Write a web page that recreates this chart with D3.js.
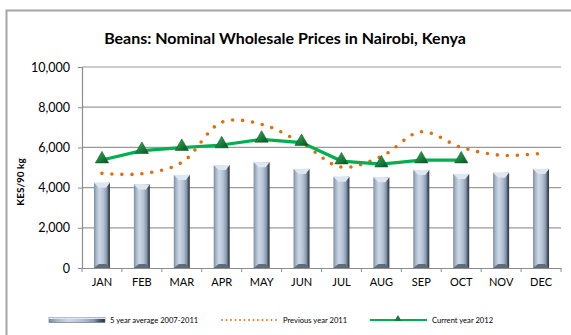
<!DOCTYPE html>
<html>
<head>
<meta charset="utf-8">
<script src="https://cdn.jsdelivr.net/npm/d3@7/dist/d3.min.js"></script>
<style>
  html, body { margin: 0; padding: 0; background: #fff; }
  svg { display: block; font-family: Lato, "Open Sans", sans-serif; }
</style>
</head>
<body>
<svg id="chart" width="571" height="335"></svg>
<script>
// Monthly wholesale bean prices, KES per 90 kg bag
const months = ["JAN","FEB","MAR","APR","MAY","JUN","JUL","AUG","SEP","OCT","NOV","DEC"];
const fiveYearAvg = [4240, 4160, 4630, 5120, 5260, 4930, 4540, 4510, 4880, 4680, 4740, 4930];
const previousYear = [4710, 4690, 5250, 7250, 7150, 6220, 5020, 5550, 6780, 6000, 5610, 5700];
const currentYear = [5370, 5840, 5990, 6120, 6400, 6240, 5320, 5170, 5370, 5370];
const yTicks = [0, 2000, 4000, 6000, 8000, 10000];

const title = "Beans: Nominal Wholesale Prices in Nairobi, Kenya";
const yTitle = "KES/90 kg";
const seriesNames = ["5 year average 2007-2011", "Previous year 2011", "Current year 2012"];

const svg = d3.select("#chart");

// outer chart frame
svg.append("rect")
  .attr("x", 6.5).attr("y", 10.5).attr("width", 600).attr("height", 400)
  .attr("fill", "#fff").attr("stroke", "#a6a6a6").attr("stroke-width", 2);

const plot = { left: 82, right: 561, top: 67, bottom: 268 };

const x = d3.scaleBand().domain(months).range([plot.left, plot.right]).paddingInner(0).paddingOuter(0);
const y = d3.scaleLinear().domain([0, 10000]).range([plot.bottom, plot.top]);

// gradients for the bevelled columns
const defs = svg.append("defs");
const barGrad = defs.append("linearGradient").attr("id", "barGrad").attr("x1", 0).attr("x2", 1).attr("y1", 0).attr("y2", 0);
[[0, "#7b8ba0"], [0.15, "#a9b7ca"], [0.35, "#cdd8e6"], [0.6, "#b3c1d3"], [0.8, "#8797ac"], [0.9, "#4c5866"], [1, "#2e353e"]]
  .forEach(([o, c]) => barGrad.append("stop").attr("offset", o).attr("stop-color", c));
const triGrad = defs.append("linearGradient").attr("id", "triGrad").attr("x1", 0).attr("x2", 1).attr("y1", 0).attr("y2", 1);
[[0, "#3fae5e"], [0.6, "#167a38"], [1, "#0b4f22"]]
  .forEach(([o, c]) => triGrad.append("stop").attr("offset", o).attr("stop-color", c));

// title
svg.append("text")
  .attr("x", 285).attr("y", 44)
  .attr("text-anchor", "middle")
  .attr("font-size", 16).attr("font-weight", "bold").attr("fill", "#000")
  .text(title);

// horizontal gridlines
svg.append("g").selectAll("line").data(yTicks.filter(d => d > 0)).join("line")
  .attr("x1", plot.left).attr("x2", plot.right)
  .attr("y1", d => y(d)).attr("y2", d => y(d))
  .attr("stroke", "#9a9a9a").attr("stroke-width", 1.2);

// y axis
const yAxis = svg.append("g")
  .attr("transform", `translate(${plot.left},0)`)
  .call(d3.axisLeft(y).tickValues(yTicks).tickFormat(d3.format(",")).tickSize(4).tickPadding(8));
yAxis.select(".domain").attr("stroke", "#8c8c8c").attr("stroke-width", 1.2);
yAxis.selectAll(".tick line").attr("stroke", "#8c8c8c");
yAxis.selectAll(".tick text").attr("font-size", 12.5).attr("fill", "#000")
  .attr("font-family", "Lato, 'Open Sans', sans-serif");

// y axis title
svg.append("text")
  .attr("transform", "translate(24,182) rotate(-90)")
  .attr("text-anchor", "middle")
  .attr("font-size", 10).attr("font-weight", "bold").attr("fill", "#000")
  .text(yTitle);

// columns: 5 year average
const barW = 16;
const bev = 5;
const bars = svg.append("g").selectAll("g").data(months.map((m, i) => ({ m, v: fiveYearAvg[i] }))).join("g");
bars.append("rect")
  .attr("x", d => x(d.m) + x.bandwidth() / 2 - barW / 2)
  .attr("y", d => y(d.v))
  .attr("width", barW)
  .attr("height", d => y(0) - y(d.v))
  .attr("fill", "url(#barGrad)");
// bevelled top facet
bars.append("path")
  .attr("d", d => {
    const x0 = x(d.m) + x.bandwidth() / 2 - barW / 2, x1 = x0 + barW, t = y(d.v);
    return `M${x0},${t}L${x1},${t}L${x1 - bev + 1},${t + bev}L${x0 + bev},${t + bev}Z`;
  })
  .attr("fill", "#dde6f1");
// bevelled bottom facet
bars.append("path")
  .attr("d", d => {
    const x0 = x(d.m) + x.bandwidth() / 2 - barW / 2, x1 = x0 + barW, b = y(0);
    return `M${x0},${b}L${x1},${b}L${x1 - bev + 1},${b - 4}L${x0 + bev},${b - 4}Z`;
  })
  .attr("fill", "#5f6c7c");

// x axis
const xAxis = svg.append("g")
  .attr("transform", `translate(0,${plot.bottom})`)
  .call(d3.axisBottom(x).tickSize(0).tickPadding(10));
xAxis.select(".domain").attr("stroke", "#8c8c8c").attr("stroke-width", 1.2);
xAxis.selectAll(".tick text").attr("font-size", 11).attr("fill", "#000")
  .attr("font-family", "Lato, 'Open Sans', sans-serif");
// category boundary ticks
svg.append("g").selectAll("line").data(d3.range(months.length + 1)).join("line")
  .attr("x1", i => plot.left + i * x.step()).attr("x2", i => plot.left + i * x.step())
  .attr("y1", plot.bottom).attr("y2", plot.bottom + 4)
  .attr("stroke", "#8c8c8c");

const cx = m => x(m) + x.bandwidth() / 2;

// previous year: smoothed dotted line
const smooth = d3.line().x((d, i) => cx(months[i])).y(d => y(d)).curve(d3.curveCatmullRom.alpha(0.5));
svg.append("path")
  .datum(previousYear)
  .attr("d", smooth)
  .attr("fill", "none")
  .attr("stroke", "#e46c0a").attr("stroke-width", 3.6)
  .attr("stroke-linecap", "round").attr("stroke-dasharray", "0 10");

// current year: green line with triangle markers
const straight = d3.line().x((d, i) => cx(months[i])).y(d => y(d));
svg.append("path")
  .datum(currentYear)
  .attr("d", straight)
  .attr("fill", "none")
  .attr("stroke", "#00b050").attr("stroke-width", 3.2);

const tri = d3.symbol().type(d3.symbolTriangle).size(76);
svg.append("g").selectAll("path").data(currentYear).join("path")
  .attr("transform", (d, i) => `translate(${cx(months[i])},${y(d) - 1})`)
  .attr("d", tri)
  .attr("fill", "url(#triGrad)").attr("stroke", "#0d5a26").attr("stroke-width", 0.6);

// legend
const lg = svg.append("g").attr("font-size", 7.6).attr("fill", "#000");
const ly = 320;
// column swatch
lg.append("rect").attr("x", 49).attr("y", ly - 2.5).attr("width", 56).attr("height", 5).attr("fill", "url(#barGrad)")
  .attr("stroke", "#5f6c7c").attr("stroke-width", 0.6);
lg.append("rect").attr("x", 49).attr("y", ly - 2.5).attr("width", 56).attr("height", 1.5).attr("fill", "#dde6f1");
lg.append("text").attr("x", 110).attr("y", ly + 3).text(seriesNames[0]);
// dotted swatch
lg.append("line").attr("x1", 222).attr("x2", 277).attr("y1", ly).attr("y2", ly)
  .attr("stroke", "#e46c0a").attr("stroke-width", 1.8).attr("stroke-linecap", "round").attr("stroke-dasharray", "0 4.5");
lg.append("text").attr("x", 283).attr("y", ly + 3).text(seriesNames[1]);
// line swatch
lg.append("line").attr("x1", 370).attr("x2", 427).attr("y1", ly).attr("y2", ly)
  .attr("stroke", "#00b050").attr("stroke-width", 2.2);
lg.append("path").attr("transform", `translate(398,${ly - 1})`).attr("d", d3.symbol().type(d3.symbolTriangle).size(22))
  .attr("fill", "#167a38");
lg.append("text").attr("x", 432).attr("y", ly + 3).text(seriesNames[2]);
</script>
</body>
</html>
